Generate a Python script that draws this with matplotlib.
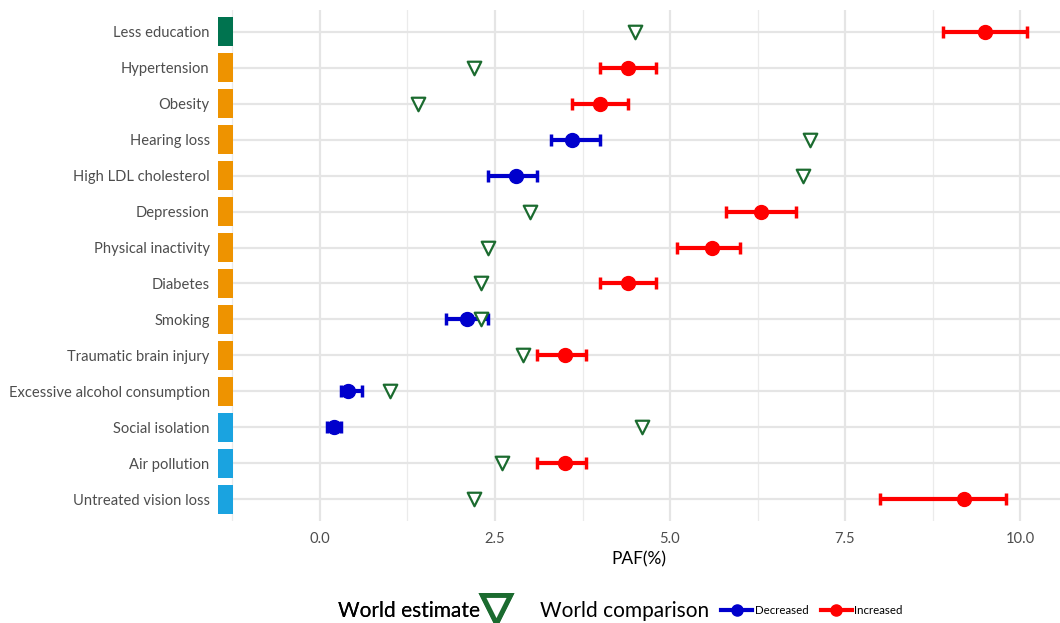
import numpy as np
import matplotlib
matplotlib.use("Agg")
import matplotlib.pyplot as plt
from matplotlib.lines import Line2D

plt.rcParams['font.family'] = ['Lato', 'DejaVu Sans']

factors = ["Less education", "Hypertension", "Obesity", "Hearing loss",
           "High LDL cholesterol", "Depression", "Physical inactivity", "Diabetes",
           "Smoking", "Traumatic brain injury", "Excessive alcohol consumption",
           "Social isolation", "Air pollution", "Untreated vision loss"]
stage = ["early", "mid", "mid", "mid", "mid", "mid", "mid", "mid",
         "mid", "mid", "mid", "late", "late", "late"]
paf = [9.5, 4.4, 4.0, 3.6, 2.8, 6.3, 5.6, 4.4, 2.1, 3.5, 0.4, 0.2, 3.5, 9.2]
paf_low = [8.9, 4.0, 3.6, 3.3, 2.4, 5.8, 5.1, 4.0, 1.8, 3.1, 0.3, 0.1, 3.1, 8.0]
paf_high = [10.1, 4.8, 4.4, 4.0, 3.1, 6.8, 6.0, 4.8, 2.4, 3.8, 0.6, 0.3, 3.8, 9.8]
world = [4.5, 2.2, 1.4, 7.0, 6.9, 3.0, 2.4, 2.3, 2.3, 2.9, 1.0, 4.6, 2.6, 2.2]

stage_colors = {"early": "#00734F", "mid": "#EE9300", "late": "#1AA3E0"}
cmp_colors = {"Decreased": "#0000CC", "Increased": "#FF0000"}
tri_color = "#1B6B2F"

fig = plt.figure(figsize=(10.6, 6.23), dpi=100)
ax = fig.add_axes([218 / 1060, 1 - 521 / 623, 842 / 1060, 511 / 623])

y = np.arange(len(factors))

# grid
for xv in [-1.25, 1.25, 3.75, 6.25, 8.75]:
    ax.axvline(xv, color="#EBEBEB", lw=0.9, zorder=0)
for xv in [0, 2.5, 5, 7.5, 10]:
    ax.axvline(xv, color="#E5E5E5", lw=1.6, zorder=0)
for yv in y:
    ax.axhline(yv, color="#E5E5E5", lw=1.6, zorder=0)

# stage tiles
ax.barh(y, 0.21, left=-1.457, height=0.8,
        color=[stage_colors[s] for s in stage], zorder=2)

# world comparison points with CI
for i in range(len(factors)):
    status = "Decreased" if paf[i] < world[i] else "Increased"
    c = cmp_colors[status]
    ax.errorbar(paf[i], y[i], xerr=[[paf[i] - paf_low[i]], [paf_high[i] - paf[i]]],
                fmt="o", color=c, ms=10, elinewidth=3, capsize=4, capthick=2.5, zorder=3)

# world estimate triangles
ax.scatter(world, y, marker="v", s=95, facecolor="white", edgecolor=tri_color,
           linewidth=1.6, zorder=4)

ax.set_xlim(-1.457, 10.571)
ax.set_ylim(13.6, -0.6)
ax.set_yticks(y)
ax.set_yticklabels(factors)
ax.set_xticks([0, 2.5, 5, 7.5, 10])
ax.set_xticklabels(["0.0", "2.5", "5.0", "7.5", "10.0"])
ax.tick_params(axis="both", length=0, labelsize=10.6, labelcolor="#4D4D4D")
ax.tick_params(axis="y", pad=6)
ax.tick_params(axis="x", pad=8)
ax.set_xlabel("PAF(%)", fontsize=12.5, color="black", labelpad=4)
for s in ax.spines.values():
    s.set_visible(False)

# legends
h1 = Line2D([], [], marker="v", ls="none", ms=20, mfc="white", mec=tri_color, mew=3.5)
leg1 = fig.legend([h1], ["World estimate"], loc="center", bbox_to_anchor=(0.401, 0.02),
                  frameon=False, markerfirst=False, fontsize=15, handletextpad=0.0,
                  handlelength=1.5)
fig.text(0.509, 0.02, "World comparison", fontsize=15, va="center", ha="left")
h2 = [Line2D([], [], marker="o", color=cmp_colors[k], lw=3, ms=8) for k in ["Decreased", "Increased"]]
leg2 = fig.legend(h2, ["Decreased", "Increased"], loc="center", bbox_to_anchor=(0.766, 0.02),
                  frameon=False, ncol=2, fontsize=8.3, handlelength=2.7, handletextpad=0.2,
                  columnspacing=1.1)
fig.add_artist(leg1)

fig.savefig("out.png", dpi=100)
